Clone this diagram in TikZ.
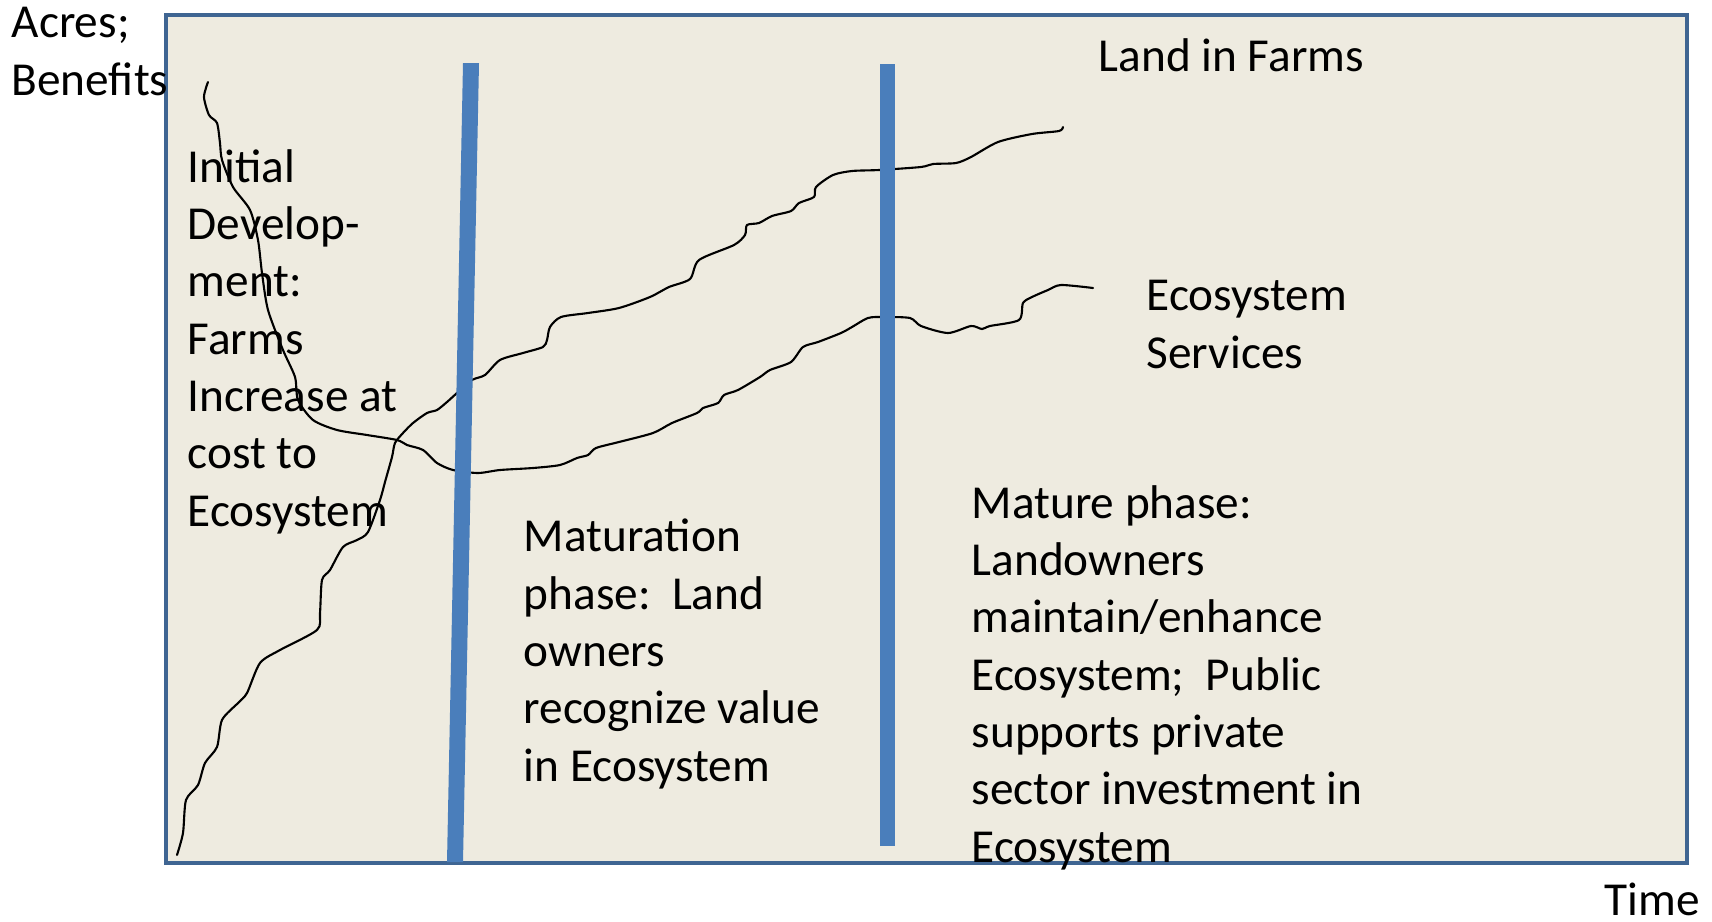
\documentclass[tikz,border=0pt]{standalone}
\usepackage{fontspec}
\setmainfont{Carlito}
\usetikzlibrary{positioning}
\definecolor{panelfill}{HTML}{EEEBE0}
\definecolor{panelline}{HTML}{3F6592}
\definecolor{phasebar}{HTML}{4A7EBB}

\begin{document}
\begin{tikzpicture}[
    x=0.01cm, y=-0.01cm,
    font=\fontsize{13.45}{16.3}\selectfont,
    txt/.style={
        anchor=base west,
        inner sep=0pt,
        align=left
    },
    panel/.style={draw=panelline, line width=1.2pt, fill=panelfill},
    bar/.style={draw=none, fill=phasebar},
    trend/.style={black, line width=0.6pt, line join=round, line cap=round}
]

\useasboundingbox (0,0) rectangle (1712,921);

% ---------------- Panel ----------------
\draw[panel] (166,15) rectangle (1687,863);

% ---------------- Curves ----------------
% land in farms
\draw[trend] plot[smooth, tension=0.45] coordinates {
    (177,855) (183,833) (186,800) (198,785) (205,763) (217,747) (222,720)
    (238,703) (247,693) (260,663) (280,650) (317,630) (320,613) (322,580)
    (330,570) (343,547) (357,540) (368,532) (380,500) (385,482) (392,457)
    (395,443) (403,433) (413,423) (427,413) (437,410) (447,402) (457,393)
    (472,380) (485,375) (500,360) (523,353) (543,347) (547,340) (550,327)
    (561,317) (588,313) (619,308) (650,297) (669,287) (690,279) (699,260)
    (734,245) (745,235) (747,225) (759,223) (772,216) (791,211) (799,203)
    (814,197) (816,187) (833,175) (852,171) (879,170) (921,167) (933,164)
    (956,163) (971,157) (998,142) (1032,134) (1059,131) (1063,127)};
% ecosystem services
\draw[trend] plot[smooth, tension=0.45] coordinates {
    (208,82) (204,97) (209,115) (217,123) (220,143) (222,160) (233,187)
    (250,210) (258,240) (262,273) (268,310) (283,350) (295,377) (298,400)
    (313,420) (337,430) (367,435) (397,440) (407,445) (423,450) (437,463)
    (453,470) (478,473) (500,470) (533,468) (560,465) (577,458) (588,455)
    (596,448) (619,442) (653,433) (672,423) (697,413) (703,408) (718,403)
    (724,395) (738,390) (760,377) (770,370) (791,362) (803,347) (818,342)
    (841,333) (852,327) (868,318) (883,317) (910,318) (921,326) (948,333)
    (971,326) (982,329) (990,326) (1019,320) (1023,303) (1032,297)
    (1048,290) (1061,285) (1093,288)};

% ---------------- Phase bars ----------------
\fill[bar] (463,63) -- (479,63) -- (463,862) -- (447,862) -- cycle;
\fill[bar] (880,64) rectangle (895,846);

% ---------------- Labels ----------------
\node[txt] (yaxis)   at (11,95)    {Acres;\\Benefits};
\node[txt] (xaxis)   at (1604,915) {Time};
\node[txt] (farms)   at (1098,71)  {Land in Farms};
\node[txt] (eco)     at (1146,368) {Ecosystem\\Services};
\node[txt] (initial) at (187,526)
    {Initial\\Develop-\\ment:\\Farms\\Increase at\\cost to\\Ecosystem};
\node[txt] (maturation) at (523,781)
    {Maturation\\phase:\ \ Land\\owners\\recognize value\\in Ecosystem};
\node[txt] (mature)  at (971,862)
    {Mature phase:\\Landowners\\maintain/enhance\\Ecosystem;\ \ Public\\supports private\\sector investment in\\Ecosystem};

\end{tikzpicture}
\end{document}
